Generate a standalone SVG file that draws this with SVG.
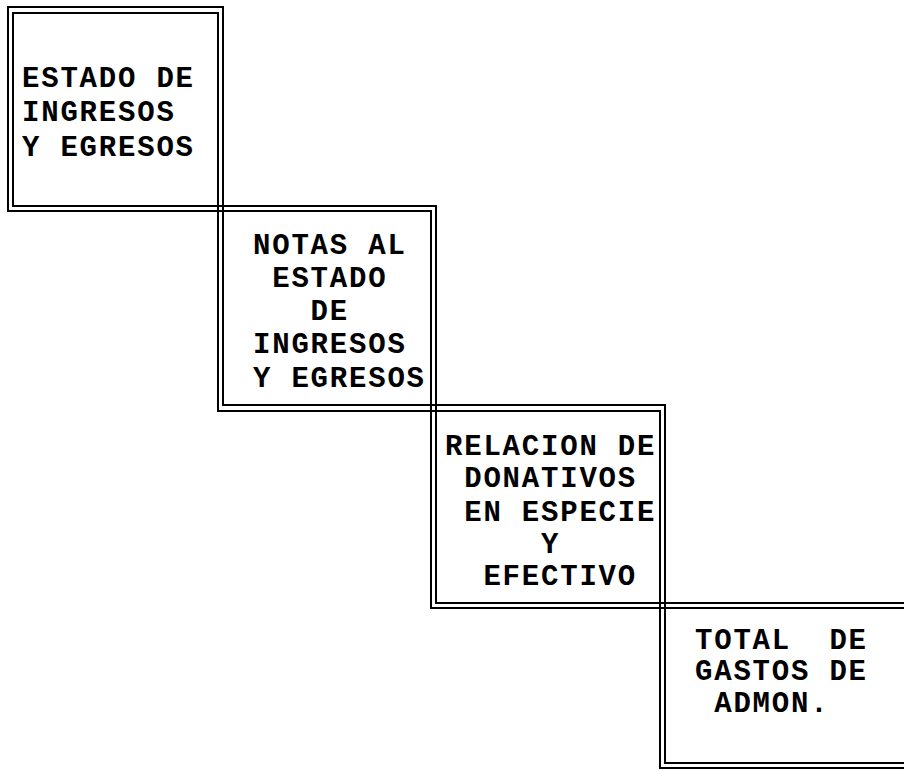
<svg xmlns="http://www.w3.org/2000/svg" width="904" height="771" viewBox="0 0 904 771">
<style>
.b{fill:none;stroke:#000;stroke-width:2}
.t{font-family:"Liberation Mono","DejaVu Sans Mono",monospace;font-size:29px;letter-spacing:1.8px;font-weight:bold;fill:#000}
</style>
<rect width="904" height="771" fill="#fff"/>
<g id="connectors"></g>
<g id="n1">
<rect class="b" x="8" y="7" width="215" height="204"/>
<rect class="b" x="13" y="13" width="205" height="193"/>
<text class="t" x="22" y="87">ESTADO DE</text>
<text class="t" x="22" y="121">INGRESOS</text>
<text class="t" x="22" y="156">Y EGRESOS</text>
</g>
<g id="n2">
<rect class="b" x="218" y="206" width="218" height="205"/>
<rect class="b" x="223" y="211" width="208" height="194"/>
<text class="t" x="253" y="254">NOTAS AL</text>
<text class="t" x="272.2" y="287">ESTADO</text>
<text class="t" x="310.6" y="320">DE</text>
<text class="t" x="253" y="353">INGRESOS</text>
<text class="t" x="253" y="387">Y EGRESOS</text>
</g>
<g id="n3">
<rect class="b" x="431" y="405" width="234" height="203"/>
<rect class="b" x="436" y="411" width="224" height="192"/>
<text class="t" x="445" y="455">RELACION DE</text>
<text class="t" x="464.2" y="487">DONATIVOS</text>
<text class="t" x="464.2" y="521">EN ESPECIE</text>
<text class="t" x="541" y="553">Y</text>
<text class="t" x="483.4" y="585">EFECTIVO</text>
</g>
<g id="n4">
<rect class="b" x="660" y="603" width="260" height="165"/>
<rect class="b" x="665" y="608" width="250" height="155"/>
<text class="t" x="695" y="649">TOTAL</text>
<text class="t" x="829.4" y="649">DE</text>
<text class="t" x="695" y="680">GASTOS DE</text>
<text class="t" x="714.2" y="712">ADMON.</text>
</g>
</svg>
